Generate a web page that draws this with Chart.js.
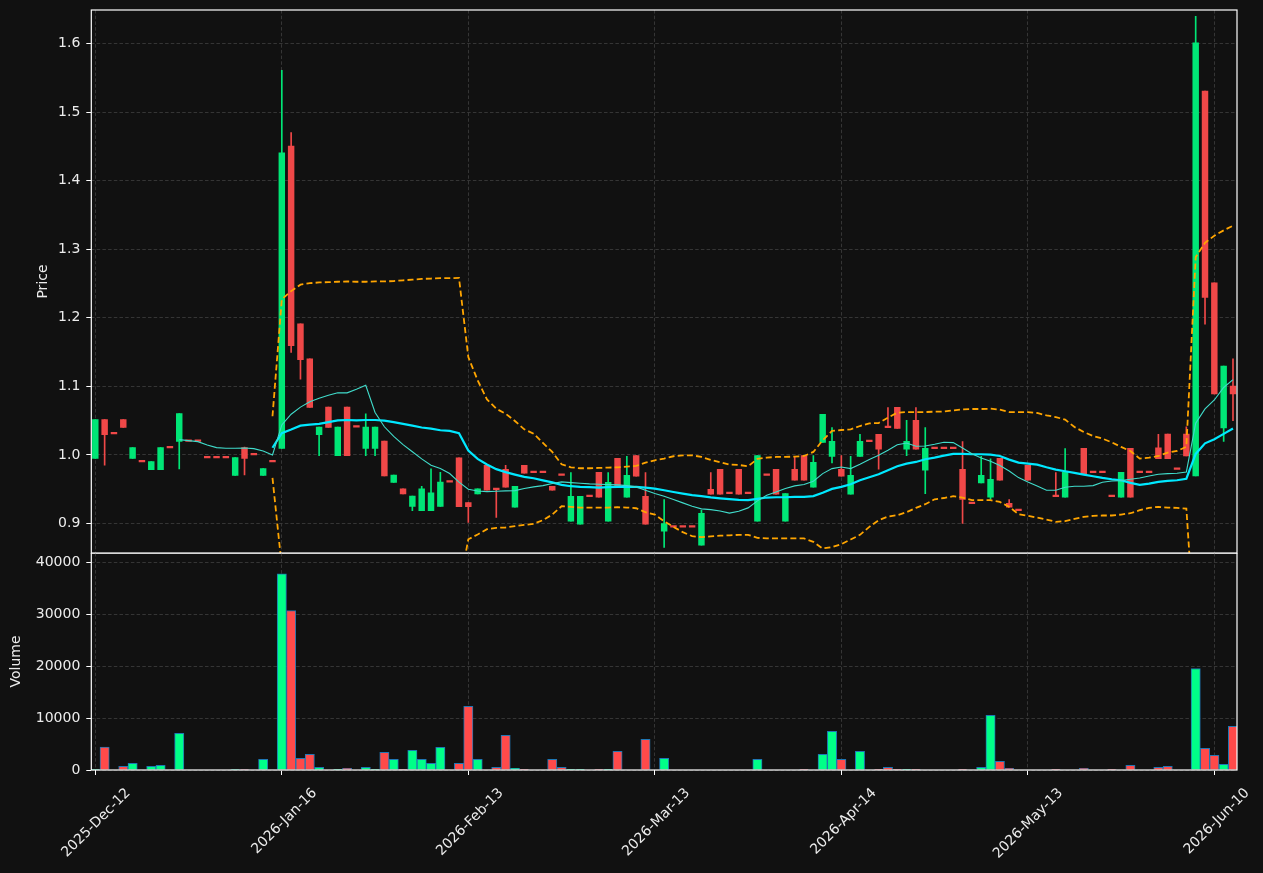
<!DOCTYPE html>
<html>
<head>
<meta charset="utf-8">
<script src="https://cdn.jsdelivr.net/npm/chart.js@4.4.1/dist/chart.umd.min.js"></script>
<style>
html,body{margin:0;padding:0;background:#111111;}
#wrap{position:relative;width:1263px;height:873px;background:#111111;overflow:hidden;}
canvas{position:absolute;left:0;}
#pc{top:0;}
#vc{top:553px;}
</style>
</head>
<body>
<div id="wrap">
<canvas id="pc" width="1263" height="554"></canvas>
<canvas id="vc" width="1263" height="320"></canvas>
</div>
<script>
// ---- tick labels (bar index -> date) ----
const tickIndex = [0, 20, 40, 60, 80, 100, 120];
const tickLabels = ['2025-Dec-12', '2026-Jan-16', '2026-Feb-13', '2026-Mar-13', '2026-Apr-14', '2026-May-13', '2026-Jun-10'];
const priceTicks = [0.9, 1.0, 1.1, 1.2, 1.3, 1.4, 1.5, 1.6];
const volumeTicks = [0, 10000, 20000, 30000, 40000];

// ---- OHLC per trading bar (null = no bar) ----
const open = [
 0.995,1.0515,1.0306,1.0515,0.995,0.990,0.9786,0.9786,1.0102,1.0199,
 1.0199,1.0199,0.9956,0.9956,0.9956,0.9703,1.0107,1.0,0.9703,0.9898,
 1.0094,1.4505,1.1911,1.1401,1.0297,1.0698,0.999,1.0698,1.0406,1.0094,
 1.0094,1.0203,0.9599,0.9505,0.925,0.9188,0.9188,0.925,0.9604,0.9958,
 0.9307,0.9432,0.985,0.951,0.9791,0.9238,0.985,0.9743,0.9743,0.9544,
 0.970,0.9034,0.899,0.9393,0.9748,0.9034,0.9951,0.9383,0.999,0.9398,
 null,0.8888,0.8947,0.8947,0.8947,0.8684,0.950,0.9791,0.9437,0.9791,
 0.9437,0.9034,0.970,0.9791,0.9034,0.9791,0.999,0.9529,1.0184,0.998,
 0.9791,0.9427,0.998,1.0194,1.0301,1.0398,1.0694,1.0083,1.0505,0.9777,
 1.0092,1.0092,1.0092,0.9791,0.9291,0.9592,0.9383,0.9951,0.9296,0.9189,
 0.985,null,null,0.9393,0.9383,null,1.0097,0.9743,0.9743,0.9393,
 0.9383,1.0097,0.9743,0.9743,1.0104,1.0304,0.979,1.0304,0.9696,1.5307,
 1.251,1.0396,1.1005];
const high = [
 1.0515,1.0515,1.0306,1.0515,1.0107,0.990,0.9903,1.0107,1.0102,1.0603,
 1.0199,1.0199,0.9956,0.9956,0.9956,0.9961,1.0115,1.0,0.980,0.9898,
 1.561,1.4703,1.1911,1.1401,1.0406,1.0698,1.0406,1.0698,1.0406,1.060,
 1.0406,1.0203,0.9708,0.9505,0.940,0.9542,0.9797,0.9745,0.9604,0.9958,
 0.9307,0.9505,0.985,0.951,0.985,0.9544,0.985,0.9743,0.9743,0.9544,
 0.970,0.9743,0.9398,0.9393,0.9748,0.9743,0.9951,0.998,0.999,0.9743,
 null,0.935,0.8947,0.8947,0.8947,0.9194,0.9743,0.9791,0.9437,0.9791,
 0.9437,0.999,0.970,0.9791,0.9437,0.998,0.999,0.999,1.0592,1.0398,
 0.999,0.998,1.0301,1.0194,1.0301,1.069,1.0694,1.0505,1.069,1.0398,
 1.0092,1.0092,1.0092,1.0194,0.9291,0.998,0.9942,0.9951,0.935,0.9189,
 0.985,null,null,0.9743,1.0092,null,1.0097,0.9743,0.9743,0.9393,
 0.9748,1.0097,0.9743,0.9743,1.0301,1.0304,0.979,1.041,1.6396,1.5307,
 1.251,1.1297,1.1401];
const low = [
 0.995,0.985,1.0306,1.0403,0.995,0.990,0.9786,0.9786,1.0102,0.9796,
 1.0199,1.0199,0.9956,0.9956,0.9956,0.9703,0.9708,1.0,0.9703,0.9898,
 1.0094,1.1495,1.1104,1.0693,0.999,1.0401,0.999,0.999,1.0406,0.999,
 0.999,0.9693,0.9599,0.9432,0.9188,0.9188,0.9188,0.925,0.9604,0.9245,
 0.9016,0.9432,0.9485,0.909,0.9529,0.9238,0.9733,0.9743,0.9743,0.9485,
 0.970,0.9034,0.899,0.9393,0.9383,0.9034,0.9544,0.9383,0.9689,0.899,
 null,0.865,0.8947,0.8947,0.8947,0.8684,0.9427,0.9427,0.9437,0.9427,
 0.9437,0.9034,0.970,0.9427,0.9034,0.9631,0.9631,0.9529,1.0184,0.9883,
 0.9689,0.9427,0.998,1.0194,0.9791,1.0398,1.0388,0.999,1.0083,0.9437,
 1.0092,1.0092,1.0092,0.900,0.9291,0.9592,0.9354,0.9631,0.9238,0.9189,
 0.9631,null,null,0.9393,0.9383,null,0.9728,0.9743,0.9743,0.9393,
 0.9383,0.9383,0.9743,0.9743,0.9945,0.9945,0.979,0.9985,0.9696,1.1906,
 1.0891,1.0198,1.05];
const close = [
 1.0515,1.0297,1.0306,1.0403,1.0107,0.990,0.9903,1.0107,1.0102,1.0603,
 1.0199,1.0199,0.9956,0.9956,0.9956,0.9961,0.9951,1.0,0.980,0.9898,
 1.4406,1.1594,1.1391,1.0693,1.0406,1.0401,1.0406,0.999,1.0406,1.0406,
 1.0406,0.9693,0.9708,0.9432,0.940,0.9505,0.9448,0.9604,0.9604,0.9245,
 0.9245,0.9505,0.9485,0.9495,0.9529,0.9544,0.9733,0.9743,0.9743,0.9485,
 0.970,0.9398,0.9398,0.9393,0.9383,0.9602,0.9544,0.9704,0.9689,0.899,
 null,0.900,0.8947,0.8947,0.8947,0.915,0.9427,0.9427,0.9437,0.9427,
 0.9437,0.999,0.970,0.9427,0.9437,0.9631,0.9631,0.9893,1.0592,1.0199,
 0.9689,0.9704,1.0199,1.0194,1.0083,1.0398,1.0388,1.0199,1.0083,1.0097,
 1.0092,1.0092,1.0092,0.935,0.9291,0.9704,0.9646,0.9631,0.9238,0.9189,
 0.9631,null,null,0.9393,0.9748,null,0.9728,0.9743,0.9743,0.9393,
 0.9748,0.9383,0.9743,0.9743,0.9945,0.9945,0.979,0.9985,1.601,1.2297,
 1.0891,1.1297,1.0891];
const volume = [
 150,4400,0,700,1300,0,700,900,0,7050,
 0,0,0,0,0,120,120,0,2050,0,
 37800,30700,2250,3000,500,0,130,320,0,510,
 130,3400,2050,130,3780,2050,1280,4360,0,1280,
 12240,2050,0,510,6670,320,130,0,0,2050,
 510,130,130,0,130,130,3590,0,0,5900,
 0,2240,0,0,0,0,0,0,0,0,
 0,2050,0,0,0,0,130,0,3010,7440,
 2050,0,3590,0,130,510,130,130,130,0,
 0,0,0,130,0,510,10510,1670,320,0,
 0,0,0,130,0,0,320,0,0,130,
 0,900,0,0,510,700,0,0,19550,4170,
 2820,1090,8400];

// ---- indicator lines ----
const ma10 = [
 null,null,null,null,null,null,null,null,null,1.0224,
 1.0209,1.0194,1.0146,1.0107,1.0097,1.0097,1.0102,1.0092,1.0058,1.0,
 1.0438,1.0594,1.0698,1.0776,1.0828,1.087,1.0906,1.0906,1.0958,1.1016,
 1.062,1.0411,1.0271,1.0151,1.0047,0.9943,0.9849,0.9802,0.9729,0.9604,
 0.95,0.9474,0.9465,0.9471,0.9476,0.948,0.951,0.9534,0.9553,0.9583,
 0.9607,0.9597,0.9587,0.9578,0.9573,0.9568,0.9563,0.9553,0.9534,0.9485,
 0.9437,0.9398,0.935,0.9301,0.9252,0.9214,0.9202,0.9182,0.9152,0.918,
 0.9228,0.933,0.9413,0.9461,0.951,0.9549,0.9568,0.9617,0.9728,0.9801,
 0.9825,0.9801,0.9864,0.9932,0.9995,1.0068,1.015,1.0175,1.0126,1.0131,
 1.0155,1.0186,1.018,1.0102,1.0019,0.9956,0.9908,0.9845,0.9767,0.967,
 0.9607,0.9549,0.9485,0.9485,0.9529,0.9544,0.9544,0.9553,0.9602,0.9621,
 0.9626,0.9646,0.9665,0.9694,0.9718,0.9728,0.9733,0.9752,1.0464,1.0672,
 1.0802,1.0984,1.1099];
const ma20 = [
 null,null,null,null,null,null,null,null,null,null,
 null,null,null,null,null,null,null,null,null,1.0105,
 1.0318,1.037,1.0427,1.0443,1.0453,1.048,1.0505,1.051,1.0505,1.051,
 1.051,1.05,1.048,1.0453,1.0427,1.04,1.0385,1.036,1.035,1.0318,
 1.0063,0.9943,0.986,0.9793,0.975,0.9714,0.968,0.966,0.963,0.960,
 0.9563,0.9544,0.9534,0.953,0.9524,0.953,0.9534,0.9534,0.9534,0.9524,
 0.951,0.9485,0.946,0.9437,0.9413,0.940,0.9381,0.9367,0.9355,0.9345,
 0.934,0.936,0.9379,0.9383,0.9383,0.9388,0.9388,0.940,0.945,0.9505,
 0.9534,0.9573,0.963,0.9675,0.9718,0.9777,0.9835,0.9874,0.9898,0.9937,
 0.9961,0.999,1.0015,1.0015,1.001,1.001,1.0005,0.9985,0.9932,0.9888,
 0.9874,0.9859,0.982,0.9786,0.9762,0.9738,0.9714,0.9689,0.9665,0.9646,
 0.9631,0.9592,0.9563,0.9583,0.9607,0.9621,0.9631,0.9653,1.0015,1.017,
 1.023,1.0307,1.0385];
const bbUpper = [
 null,null,null,null,null,null,null,null,null,null,
 null,null,null,null,null,null,null,null,null,1.0564,
 1.2271,1.239,1.2484,1.2505,1.2516,1.2521,1.2526,1.2531,1.2526,1.2526,
 1.2531,1.2531,1.2536,1.2547,1.2557,1.2568,1.2573,1.2578,1.2578,1.2583,
 1.1427,1.1089,1.081,1.0675,1.0602,1.0495,1.0374,1.0311,1.0175,1.0044,
 0.9864,0.982,0.9806,0.9806,0.9811,0.9816,0.982,0.983,0.984,0.9888,
 0.9922,0.9947,0.9981,0.9995,0.9995,0.9971,0.9927,0.9893,0.9859,0.9854,
 0.9835,0.9942,0.9961,0.9971,0.9971,0.9976,0.9985,1.0044,1.0214,1.035,
 1.0364,1.0374,1.0422,1.0461,1.0466,1.0544,1.0617,1.0626,1.0626,1.0626,
 1.0631,1.0633,1.065,1.0665,1.067,1.067,1.0675,1.066,1.0626,1.0626,
 1.0626,1.0612,1.0578,1.0553,1.0515,1.0408,1.0335,1.0277,1.0238,1.0184,
 1.0117,1.0058,0.9947,0.9961,0.9985,1.0034,1.0058,1.012,1.2885,1.3094,
 1.3198,1.3276,1.3344];
const bbLower = [
 null,null,null,null,null,null,null,null,null,null,
 null,null,null,null,null,null,null,null,null,0.9665,
 0.8365,0.835,0.837,0.838,0.839,0.844,0.848,0.849,0.848,0.849,
 0.849,0.847,0.842,0.836,0.830,0.823,0.820,0.814,0.812,0.805,
 0.877,0.884,0.8917,0.8937,0.8942,0.8961,0.898,0.8995,0.9049,0.9131,
 0.9252,0.9243,0.9233,0.9233,0.9233,0.9233,0.9238,0.9233,0.9223,0.9165,
 0.9131,0.9034,0.8951,0.8874,0.8816,0.8801,0.8813,0.8823,0.8828,0.8835,
 0.8835,0.8791,0.8782,0.8782,0.8782,0.8782,0.8782,0.8733,0.8636,0.8655,
 0.8699,0.8767,0.8835,0.8951,0.9049,0.9102,0.9121,0.9165,0.9228,0.9282,
 0.9354,0.9372,0.9398,0.9379,0.934,0.934,0.934,0.9316,0.9243,0.9136,
 0.9112,0.9087,0.9058,0.9024,0.9034,0.9068,0.9097,0.9112,0.9117,0.9117,
 0.9131,0.915,0.9194,0.9228,0.9243,0.9233,0.9228,0.9218,0.7155,0.7226,
 0.7262,0.7338,0.7426];

// ---- styles ----
const UP = '#00e676', DOWN = '#f04848';
const VUP = '#00ff88', VDOWN = '#ff4a4a';
const TXT = '#ececec';
const GRID = '#3a3a3a';
const FONT = {family: 'DejaVu Sans', size: 14};
const X_MIN = -0.43, X_MAX = 122.43;

const toXY = arr => arr.map((v, i) => ({x: i, y: v}));
const bodies = [], wicks = [], vols = [];
open.forEach((o, i) => {
  if (o === null) return;
  const up = close[i] > o;
  bodies.push({x: i, y: [o, close[i]], up});
  if (high[i] > low[i]) wicks.push({x: i, y: [low[i], high[i]], up});
});
volume.forEach((v, i) => {
  if (!v) return;
  const up = open[i] !== null && close[i] > open[i];
  vols.push({x: i, y: v, up});
});

const frame = {
  id: 'frame',
  afterDraw(chart) {
    const {ctx, chartArea: a} = chart;
    ctx.save();
    ctx.strokeStyle = '#ffffff';
    ctx.lineWidth = 1.2;
    ctx.strokeRect(a.left, a.top, a.right - a.left, a.bottom - a.top);
    ctx.restore();
  }
};
const setTicks = list => s => { s.ticks = list.map(v => ({value: v})); };
const fitX = h => s => { s.height = h; s.paddingLeft = 0; s.paddingRight = 0; s.paddingTop = 0; s.paddingBottom = 0; };
const fitY = w => s => { s.width = w; s.paddingTop = 0; s.paddingBottom = 0; s.paddingLeft = 0; s.paddingRight = 0; };

new Chart(document.getElementById('pc'), {
  type: 'bar',
  data: {
    datasets: [
      {type: 'line', label: 'MA10', data: toXY(ma10), borderColor: '#40dccb', borderWidth: 1.1, pointRadius: 0, tension: 0, order: 0},
      {type: 'line', label: 'MA20', data: toXY(ma20), borderColor: '#00e8ff', borderWidth: 2.2, pointRadius: 0, tension: 0, order: 0},
      {type: 'line', label: 'Upper', data: toXY(bbUpper), borderColor: '#ffa500', borderWidth: 1.8, borderDash: [6, 3.2], pointRadius: 0, tension: 0, order: 0},
      {type: 'line', label: 'Lower', data: toXY(bbLower), borderColor: '#ffa500', borderWidth: 1.8, borderDash: [6, 3.2], pointRadius: 0, tension: 0, order: 0},
      {type: 'bar', label: 'Body', data: bodies, backgroundColor: c => (c.raw && c.raw.up) ? UP : DOWN, barThickness: 5.8, minBarLength: 1.6, grouped: false, order: 1},
      {type: 'bar', label: 'Wick', data: wicks, backgroundColor: c => (c.raw && c.raw.up) ? UP : DOWN, barThickness: 1, grouped: false, order: 2}
    ]
  },
  options: {
    responsive: false, animation: false,
    layout: {padding: {left: 30.5, right: 26, top: 10, bottom: 1}},
    plugins: {legend: {display: false}, tooltip: {enabled: false}},
    scales: {
      x: {type: 'linear', offset: false, min: X_MIN, max: X_MAX, afterBuildTicks: setTicks(tickIndex),
          ticks: {display: false}, grid: {offset: false, color: GRID, lineWidth: 0.9, drawTicks: false},
          border: {display: false, dash: [3.5, 2.2]}, afterFit: fitX(0)},
      y: {type: 'linear', min: 0.857, max: 1.649, afterBuildTicks: setTicks(priceTicks),
          ticks: {color: TXT, font: FONT, padding: 6, callback: v => Number(v).toFixed(1)},
          grid: {color: GRID, lineWidth: 0.9, tickColor: '#ffffff', tickLength: 5, tickWidth: 1},
          border: {display: false, dash: [3.5, 2.2]},
          title: {display: true, text: 'Price', color: TXT, font: FONT},
          afterFit: fitY(60.8)}
    }
  },
  plugins: [frame]
});

new Chart(document.getElementById('vc'), {
  type: 'bar',
  data: {
    datasets: [
      {label: 'Volume', data: vols, backgroundColor: c => (c.raw && c.raw.up) ? VUP : VDOWN,
       borderColor: '#1f77b4', borderWidth: 1, barThickness: 9.3, grouped: false}
    ]
  },
  options: {
    responsive: false, animation: false,
    layout: {padding: {left: 4.3, right: 26, top: 0, bottom: 0}},
    plugins: {legend: {display: false}, tooltip: {enabled: false}},
    scales: {
      x: {type: 'linear', offset: false, min: X_MIN, max: X_MAX, afterBuildTicks: setTicks(tickIndex),
          ticks: {color: TXT, font: FONT, autoSkip: false, minRotation: 45, maxRotation: 45, padding: 10, labelOffset: 33,
                  callback: v => tickLabels[tickIndex.indexOf(v)]},
          grid: {offset: false, color: GRID, lineWidth: 0.9, tickColor: '#ffffff', tickLength: 5, tickWidth: 1},
          border: {display: false, dash: [3.5, 2.2]}, afterFit: fitX(103)},
      y: {type: 'linear', min: 0, max: 41790, afterBuildTicks: setTicks(volumeTicks),
          ticks: {color: TXT, font: FONT, padding: 6, callback: v => String(v)},
          grid: {color: GRID, lineWidth: 0.9, tickColor: '#ffffff', tickLength: 5, tickWidth: 1},
          border: {display: false, dash: [3.5, 2.2]},
          title: {display: true, text: 'Volume', color: TXT, font: FONT},
          afterFit: fitY(87)}
    }
  },
  plugins: [frame]
});
</script>
</body>
</html>
